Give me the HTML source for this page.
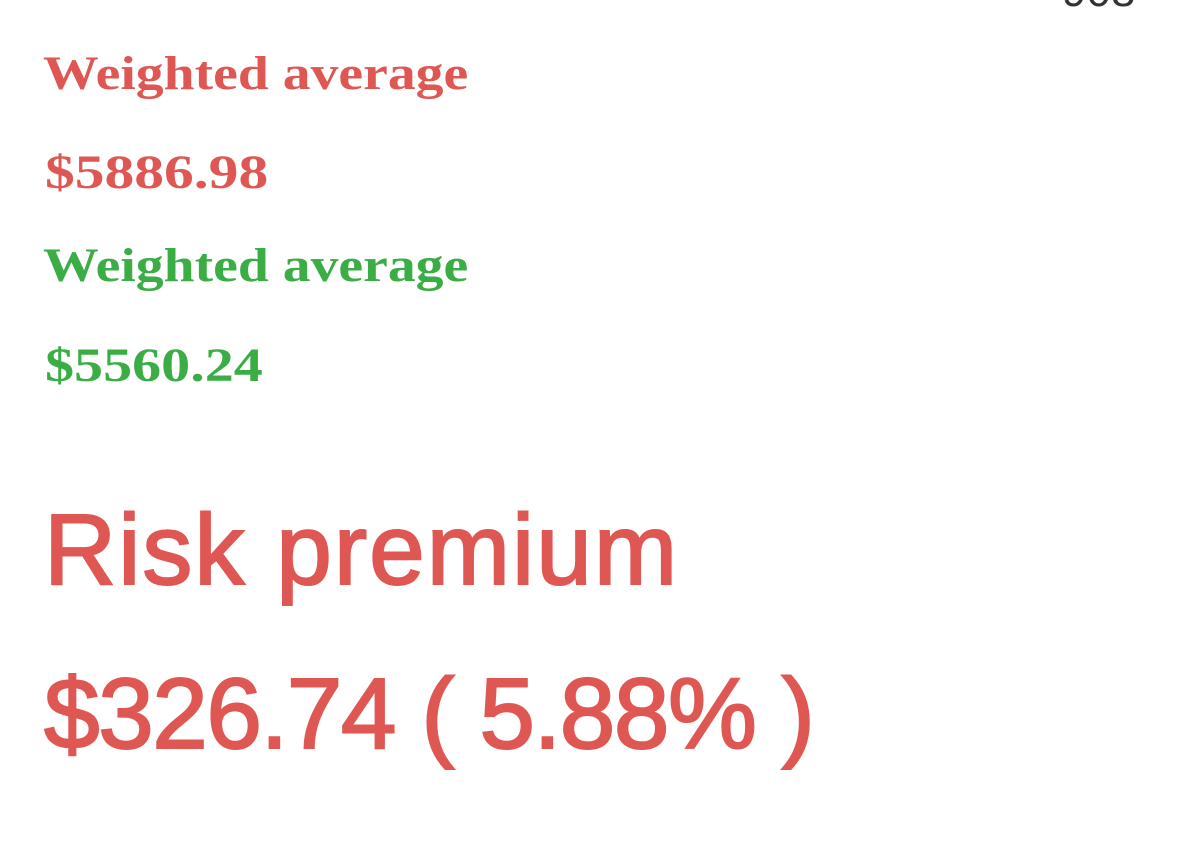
<!DOCTYPE html>
<html><head><meta charset="utf-8"><style>
html,body{margin:0;padding:0;background:#fff;width:1200px;height:847px;overflow:hidden;position:relative}
.t{position:absolute;white-space:nowrap;transform-origin:0 0;line-height:1}
.serif{font-family:"Liberation Serif",serif;font-weight:bold;font-size:48px}
.red{color:#df5753}.green{color:#3aad45}
.sans{font-family:"Liberation Sans",sans-serif;font-weight:normal;font-size:100px;color:#df5753;-webkit-text-stroke:2px #df5753}
</style></head><body>
<div class="t" style="left:1062px;top:-30px;font-family:'Liberation Sans',sans-serif;font-size:44px;color:#333">908</div>
<div class="t serif red" style="left:43px;top:50px;transform:scaleX(1.16)">Weighted average</div>
<div class="t serif red" style="left:45px;top:149px;transform:scaleX(1.24)">$5886.98</div>
<div class="t serif green" style="left:43px;top:242px;transform:scaleX(1.16)">Weighted average</div>
<div class="t serif green" style="left:45px;top:342px;transform:scaleX(1.21)">$5560.24</div>
<div class="t sans" style="left:44px;top:500px;letter-spacing:2px">Risk premium</div>
<div class="t sans" style="left:44px;top:664px;letter-spacing:-1.5px">$326.74 ( 5.88% )</div>
</body></html>
